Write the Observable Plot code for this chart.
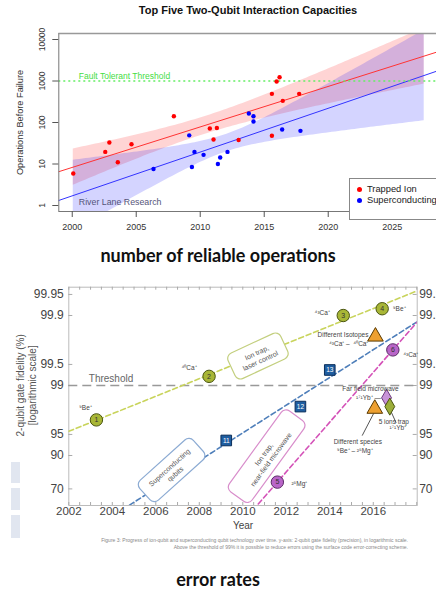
<!DOCTYPE html>
<html><head><meta charset="utf-8">
<script src="https://cdn.jsdelivr.net/npm/d3@7"></script>
<script src="https://cdn.jsdelivr.net/npm/@observablehq/plot@0.6"></script>
<style>
body{margin:0;background:#fff;}
#page{position:relative;width:436px;height:591px;overflow:hidden;font-family:"Liberation Sans",Arial,sans-serif;background:#fff;}
.abs{position:absolute;}
#page svg{position:absolute;left:0;}
.cap{position:absolute;left:0;width:436px;text-align:center;font-family:Lato,"Open Sans",sans-serif;font-weight:bold;font-size:18px;color:#111;white-space:nowrap;}
.bar{position:absolute;background:#e1e6f0;}
</style></head><body><div id="page"></div>
<script>
// ---------- Top chart data ----------
const ionYears = [2000.08, 2002.58, 2002.9, 2003.56, 2004.63, 2007.94, 2010.75, 2011.04, 2011.3, 2013.0, 2015.6, 2015.6, 2015.97, 2016.2, 2016.45, 2017.73];
const ionOps   = [5.9, 19.6, 33, 11, 30, 142, 72, 39, 74, 38, 48, 491, 975, 1236, 333, 491];
const scYears  = [2006.35, 2009.14, 2009.35, 2009.55, 2010.26, 2011.38, 2011.56, 2012.13, 2013.8, 2014.16, 2014.16, 2016.4, 2017.83];
const scOps    = [7.6, 49, 8.5, 19.6, 16.6, 10, 14.3, 19.6, 165, 142, 106, 68, 63];
const opsTicks = [1, 10, 100, 1000, 10000];
const yearTicks = [2000, 2005, 2010, 2015, 2020, 2025];
const faultThreshold = 1000;
const seriesNames = ["Trapped Ion", "Superconducting"];
const bandRange = [2000.08, 2027.5];

// ---------- Bottom chart data ----------
const fidTicks = [99.95, 99.9, 99.5, 99, 95, 90, 70];
const fidYearTicks = [2002, 2004, 2006, 2008, 2010, 2012, 2014, 2016];
const thresholdFid = 99;
const laserYears = [2003.27, 2008.45, 2014.62, 2016.41];
const laserFid   = [96.9, 99.26, 99.9, 99.92];
const laserNum   = ["1", "2", "3", "4"];
const laserIon   = ["⁹Be⁺", "⁴⁰Ca⁺", "⁴³Ca⁺", "⁹Be⁺"];
const scqYears = [2009.24, 2012.65, 2014.0];
const scqFid   = [93.9, 98.0, 99.4];
const scqNum   = ["11", "12", "13"];
const nearYears = [2011.59, 2016.9];
const nearFid   = [76, 99.69];
const nearNum   = ["5", "6"];
const nearIon   = ["²⁵Mg⁺", "⁴³Ca⁺"];
const triYears = [2016.1, 2016.07];
const triFid   = [99.8, 97.85];
const farYears = [2016.61];
const farFid   = [98.5];
const fiveYears = [2016.76];
const fiveFid   = [98.0];

// ---------- helpers ----------
const T975 = [NaN,12.706,4.303,3.182,2.776,2.571,2.447,2.365,2.306,2.262,2.228,2.201,2.179,2.160,2.145,2.131,2.120,2.110,2.101,2.093,2.086,2.080,2.074,2.069,2.064,2.060,2.056,2.052,2.048,2.045,2.042];
function olsLog(xs, vs) {
  const ys = vs.map(Math.log10);
  const n = xs.length, mx = d3.mean(xs), my = d3.mean(ys);
  const sxx = d3.sum(xs, x => (x - mx) ** 2);
  const sxy = d3.sum(xs, (x, i) => (x - mx) * (ys[i] - my));
  const b = sxy / sxx, a = my - b * mx;
  const s = n > 2 ? Math.sqrt(d3.sum(xs, (x, i) => (ys[i] - a - b * x) ** 2) / (n - 2)) : 0;
  const t = T975[Math.max(1, n - 2)];
  return {at: x => a + b * x, half: x => t * s * Math.sqrt(1 / n + (x - mx) ** 2 / sxx)};
}
const zip = (xs, ys, extra = {}) => xs.map((x, i) => {
  const o = {x, y: ys[i]};
  for (const k in extra) o[k] = extra[k][i];
  return o;
});

const page = document.getElementById("page");

// ================= TOP CHART =================
const topX = [1998.95, 2028.46];
const ion = zip(ionYears, ionOps);
const sc = zip(scYears, scOps);
const fIon = olsLog(ionYears, ionOps), fSc = olsLog(scYears, scOps);
const bandXs = d3.range(bandRange[0], bandRange[1], 0.25).concat([bandRange[1]]);
const band = f => bandXs.map(x => ({x, lo: 10 ** (f.at(x) - f.half(x)), hi: 10 ** (f.at(x) + f.half(x))}));
const fitLine = f => topX.map(x => ({x, y: 10 ** f.at(x)}));

const topPlot = Plot.plot({
  width: 436, height: 240,
  marginLeft: 58.3, marginRight: 0, marginTop: 33, marginBottom: 29,
  x: {domain: topX},
  y: {type: "log", domain: [0.717, 13960]},
  style: {fontFamily: "Liberation Sans, Arial, sans-serif", color: "#333", background: "transparent", overflow: "visible"},
  marks: [
    Plot.areaY(band(fIon), {x: "x", y1: "lo", y2: "hi", fill: "#ff0000", fillOpacity: 0.17, clip: true}),
    Plot.areaY(band(fSc), {x: "x", y1: "lo", y2: "hi", fill: "#0000ff", fillOpacity: 0.17, clip: true}),
    Plot.line(fitLine(fIon), {x: "x", y: "y", stroke: "#ff3333", strokeWidth: 1, clip: true}),
    Plot.line(fitLine(fSc), {x: "x", y: "y", stroke: "#3333ff", strokeWidth: 1, clip: true}),
    Plot.ruleY([faultThreshold], {y: d => d, stroke: "#66ee66", strokeWidth: 1.3, strokeDasharray: "2,3"}),
    Plot.text(["Fault Tolerant Threshold"], {text: d => d, y: faultThreshold, frameAnchor: "left", dx: 20, dy: -5, textAnchor: "start", fill: "#44dd44", fontSize: 8.5}),
    Plot.dot(ion, {x: "x", y: "y", r: 2.2, fill: "#ff0000"}),
    Plot.dot(sc, {x: "x", y: "y", r: 2.2, fill: "#0000ff"}),
    Plot.ruleX([topX[0]], {x: d => d, stroke: "#777"}),
    Plot.ruleY([0.717], {y: d => d, stroke: "#777"}),
    Plot.ruleY([13960], {y: d => d, stroke: "#999", strokeWidth: 1.5}),
    Plot.axisX({ticks: yearTicks, tickSize: 6, tickPadding: 6, fontSize: 9, tickFormat: d => String(d), label: null, stroke: "#555"}),
    Plot.axisY({ticks: opsTicks, tickSize: 6, tickFormat: () => "", label: null, stroke: "#555"}),
    Plot.text(opsTicks, {y: d => d, text: d => String(d), frameAnchor: "left", textAnchor: "middle", dx: -16.6, rotate: -90, fontSize: 8.5, fill: "#333"}),
    Plot.text(["Operations Before Failure"], {text: d => d, frameAnchor: "left", textAnchor: "middle", dx: -38.3, rotate: -90, fontSize: 9.2, fill: "#333"}),
    Plot.text(["River Lane Research"], {text: d => d, frameAnchor: "bottom-left", dx: 20, dy: -7, textAnchor: "start", fill: "#55557a", fontSize: 8.8})
  ]
});
topPlot.style.top = "0px";
page.appendChild(topPlot);

// title
const title = document.createElement("div");
title.className = "abs";
title.textContent = "Top Five Two-Qubit Interaction Capacities";
Object.assign(title.style, {left: "248px", top: "4px", transform: "translateX(-50%)", fontWeight: "bold", fontSize: "11px", whiteSpace: "nowrap", color: "#111"});
page.appendChild(title);

// legend
const legend = document.createElement("div");
legend.className = "abs";
Object.assign(legend.style, {left: "349px", top: "178px", width: "100px", height: "40px", border: "1px solid #888", background: "#fff", fontSize: "9.3px", color: "#222"});
const legColors = ["#ff0000", "#0000ff"];
seriesNames.forEach((name, i) => {
  const row = document.createElement("div");
  row.style.cssText = `position:absolute;left:0;top:${5 + i * 11}px;white-space:nowrap;height:11px;line-height:11px;`;
  row.innerHTML = `<span style="position:absolute;left:7px;top:3px;width:5px;height:5px;border-radius:50%;background:${legColors[i]}"></span><span style="position:absolute;left:17px;top:0">${name}</span>`;
  legend.appendChild(row);
});
page.appendChild(legend);

const cap1 = document.createElement("div");
cap1.className = "cap";
cap1.style.top = "244px";
cap1.textContent = "number of reliable operations";
page.appendChild(cap1);

// ================= BOTTOM CHART =================
const err = f => 100 - f;
const botX = [2002, 2018.02];
const laser = zip(laserYears, laserFid.map(err), {n: laserNum, ion: laserIon});
const scq = zip(scqYears, scqFid.map(err), {n: scqNum});
const near = zip(nearYears, nearFid.map(err), {n: nearNum, ion: nearIon});
const tri = zip(triYears, triFid.map(err));
const far = zip(farYears, farFid.map(err));
const five = zip(fiveYears, fiveFid.map(err));
const trend = (xs, fs) => { const f = olsLog(xs, fs.map(err)); return botX.map(x => ({x, y: 10 ** f.at(x)})); };
const fidLabel = f => String(f);

const BW = 436, BH = 260, bL = 68.3, bR = 19.3, bT = 6.7, bB = 35;
const fw = BW - bL - bR, fh = BH - bT - bB;

function roundBox(year, fid, w, h, angle, color) {
  return (index, scales) => {
    const px = scales.x(year), py = scales.y(err(fid));
    const g = d3.create("svg:g");
    g.append("rect").attr("x", -w / 2).attr("y", -h / 2).attr("width", w).attr("height", h).attr("rx", 6)
      .attr("fill", "#fff").attr("stroke", color).attr("stroke-width", 1.2)
      .attr("transform", `translate(${px},${py}) rotate(${angle})`);
    return g.node();
  };
}
const boxText = (txt, year, fid, angle) => Plot.text([txt], {text: d => d, x: () => year, y: () => err(fid), rotate: angle, textAnchor: "middle", fontSize: 7, fill: "#555", lineHeight: 1.25});

const botPlot = Plot.plot({
  width: BW, height: BH, marginLeft: bL, marginRight: bR, marginTop: bT, marginBottom: bB,
  x: {domain: botX},
  y: {type: "log", domain: [0.0394, 51.8], reverse: true, axis: null},
  style: {fontFamily: "Liberation Sans, Arial, sans-serif", color: "#444", background: "transparent"},
  marks: [
    Plot.frame({stroke: "#bbb"}),
    Plot.tickX(d3.range(2002, 2018.01, 0.5), {x: d => d, insetBottom: fh - 3, stroke: "#aaa"}),
    Plot.tickX(d3.range(2002, 2018.01, 0.5), {x: d => d, insetTop: fh - 3, stroke: "#aaa"}),
    Plot.tickY(fidTicks, {y: err, insetRight: fw - 4, stroke: "#aaa"}),
    Plot.tickY(fidTicks, {y: err, insetLeft: fw - 4, stroke: "#aaa"}),
    Plot.ruleY([thresholdFid], {y: err, stroke: "#999", strokeWidth: 1.6, strokeDasharray: "9,5"}),
    Plot.text(["Threshold"], {text: d => d, y: () => err(thresholdFid), frameAnchor: "left", dx: 20, dy: -7, textAnchor: "start", fontSize: 10, fill: "#666"}),
    Plot.line(trend(laserYears, laserFid), {x: "x", y: "y", stroke: "#c9d45c", strokeWidth: 1.6, strokeDasharray: "5,3", clip: true}),
    Plot.line(trend(scqYears, scqFid), {x: "x", y: "y", stroke: "#4f7fba", strokeWidth: 1.6, strokeDasharray: "5,3", clip: true}),
    Plot.line(trend(nearYears, nearFid), {x: "x", y: "y", stroke: "#d452b8", strokeWidth: 1.6, strokeDasharray: "5,3", clip: true}),
    roundBox(2010.72, 99.615, 58, 28, -25, "#c3cf7e"),
    boxText("Ion trap,\nlaser control", 2010.72, 99.615, -25),
    roundBox(2006.75, 83.6, 72, 27, -42, "#8cabd3"),
    boxText("Superconducting\nqubits", 2006.75, 83.6, -42),
    roundBox(2011.12, 89.6, 100, 28, -54, "#d88dcb"),
    boxText("Ion trap,\nnear-field microwave", 2011.12, 89.6, -54),
    Plot.link([0], {x1: () => 2015.49, y1: () => err(94.8), x2: () => 2016.02, y2: () => err(97.5), stroke: "#555", strokeWidth: 1}),
    Plot.link([0], {x1: () => 2016.8, y1: () => err(97.7), x2: () => 2017.05, y2: () => err(96.6), stroke: "#555", strokeWidth: 1}),
    Plot.dot(laser, {x: "x", y: "y", r: 6.2, fill: "#a8b636", stroke: "#4a5510", strokeWidth: 1}),
    Plot.text(laser, {x: "x", y: "y", text: "n", fontSize: 7, fill: "#333"}),
    Plot.dot(scq, {x: "x", y: "y", r: 6, symbol: "square", fill: "#1e5da0", stroke: "#0b2e5a", strokeWidth: 1}),
    Plot.text(scq, {x: "x", y: "y", text: "n", fontSize: 6.5, fill: "#fff"}),
    Plot.dot(near, {x: "x", y: "y", r: 6.2, fill: "#b965c8", stroke: "#5a2a66", strokeWidth: 1}),
    Plot.text(near, {x: "x", y: "y", text: "n", fontSize: 7, fill: "#333"}),
    Plot.dot(tri, {x: "x", y: "y", r: 5.8, symbol: "triangle", fill: "#eea030", stroke: "#5a3a00", strokeWidth: 1}),
    Plot.dot(far, {x: "x", y: "y", r: 5.2, symbol: "diamond", fill: "#c893d8", stroke: "#6a3a7a", strokeWidth: 1}),
    Plot.dot(five, {x: "x", y: "y", r: 5.2, symbol: "diamond", fill: "#9cae3a", stroke: "#4a5510", strokeWidth: 1}),
    // species labels, offset from their points
    Plot.text([laser[0]], {x: "x", y: "y", text: "ion", dx: -11, dy: -12, fontSize: 6.5, fill: "#444"}),
    Plot.text([laser[1]], {x: "x", y: "y", text: "ion", dx: -20, dy: -8, fontSize: 6.5, fill: "#444"}),
    Plot.text([laser[2]], {x: "x", y: "y", text: "ion", dx: -21, dy: -3, fontSize: 6.5, fill: "#444"}),
    Plot.text([laser[3]], {x: "x", y: "y", text: "ion", dx: 17, dy: 0, fontSize: 6.5, fill: "#444"}),
    Plot.text([near[0]], {x: "x", y: "y", text: "ion", dx: 22, dy: 2, fontSize: 6.5, fill: "#444"}),
    Plot.text([near[1]], {x: "x", y: "y", text: "ion", dx: 18, dy: 5, fontSize: 6.5, fill: "#444"}),
    Plot.text([tri[0]], {x: "x", y: "y", text: () => "Different Isotopes", dx: -7, dy: -2, textAnchor: "end", fontSize: 6.5, fill: "#444"}),
    Plot.text([tri[0]], {x: "x", y: "y", text: () => "⁴³Ca⁺ –  ⁴⁰Ca⁺", dx: -7, dy: 7, textAnchor: "end", fontSize: 6.5, fill: "#444"}),
    Plot.text([far[0]], {x: "x", y: "y", text: () => "Far field microwave", dx: -16, dy: -9, fontSize: 6.5, fill: "#444"}),
    Plot.text([far[0]], {x: "x", y: "y", text: () => "¹⁷¹Yb⁺ —", dx: -18, dy: 0, fontSize: 6.5, fill: "#444"}),
    Plot.text([five[0]], {x: "x", y: "y", text: () => "5 ions trap", dx: 4, dy: 15, fontSize: 6.5, fill: "#444"}),
    Plot.text([five[0]], {x: "x", y: "y", text: () => "¹⁷¹Yb⁺", dx: 8, dy: 21, fontSize: 6.5, fill: "#444"}),
    Plot.text([tri[1]], {x: "x", y: "y", text: () => "Different species", dx: -17, dy: 33, fontSize: 6.5, fill: "#444"}),
    Plot.text([tri[1]], {x: "x", y: "y", text: () => "⁹Be⁺ – ²⁵Mg⁺", dx: -20, dy: 42, fontSize: 6.5, fill: "#444"}),
    // axes
    Plot.axisX({ticks: fidYearTicks, tickSize: 0, tickPadding: 1, fontSize: 11.5, tickFormat: d => String(d), label: null, fill: "#444"}),
    Plot.text(["Year"], {text: d => d, frameAnchor: "bottom", dy: 23, fontSize: 10, fill: "#444"}),
    Plot.text(fidTicks, {y: err, text: fidLabel, frameAnchor: "left", textAnchor: "end", dx: -5, fontSize: 12, fill: "#444"}),
    Plot.text(fidTicks, {y: err, text: fidLabel, frameAnchor: "right", textAnchor: "start", dx: 2, fontSize: 12, fill: "#444"}),
    Plot.text(["2-qubit gate fidelity (%)"], {text: d => d, frameAnchor: "left", textAnchor: "middle", dx: -48, dy: -11, rotate: -90, fontSize: 10, fill: "#555"}),
    Plot.text(["[logarithmic scale]"], {text: d => d, frameAnchor: "left", textAnchor: "middle", dx: -36, dy: -11, rotate: -90, fontSize: 10, fill: "#555"})
  ]
});
botPlot.style.top = "280px";
page.appendChild(botPlot);

// decorative slide bars
[[462, 483], [488, 510], [515, 538]].forEach(([a, b]) => {
  const d = document.createElement("div");
  d.className = "bar";
  Object.assign(d.style, {left: "11px", top: a + "px", width: "9px", height: (b - a) + "px"});
  page.appendChild(d);
});

// figure caption
const figCap = document.createElement("div");
figCap.className = "abs";
Object.assign(figCap.style, {right: "28px", top: "537px", width: "380px", textAlign: "right", fontSize: "5px", lineHeight: "7px", color: "#888", whiteSpace: "nowrap"});
figCap.innerHTML = "Figure 3: Progress of ion-qubit and superconducting qubit technology over time. y-axis: 2-qubit gate fidelity (precision), in logarithmic scale.<br>Above the threshold of 99% it is possible to reduce errors using the surface code error-correcting scheme.";
page.appendChild(figCap);

const cap2 = document.createElement("div");
cap2.className = "cap";
cap2.style.top = "568px";
cap2.textContent = "error rates";
page.appendChild(cap2);
</script></body></html>
